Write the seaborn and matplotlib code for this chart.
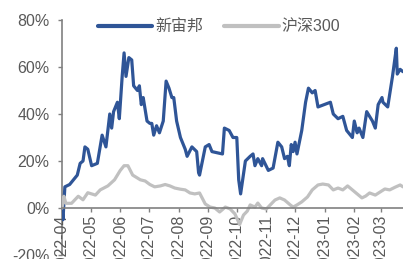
import matplotlib
matplotlib.use('Agg')
import matplotlib.pyplot as plt
import matplotlib.dates as mdates
from matplotlib.ticker import FuncFormatter
import seaborn as sns
import pandas as pd

# 新宙邦 cumulative return (%)
xzb_dates = ['2022-04-01', '2022-04-02', '2022-04-04', '2022-04-09', '2022-04-17', '2022-04-20',
             '2022-04-23', '2022-04-25', '2022-04-28', '2022-05-02', '2022-05-08', '2022-05-13',
             '2022-05-17', '2022-05-21', '2022-05-23', '2022-05-25', '2022-05-29', '2022-05-31',
             '2022-06-03', '2022-06-05', '2022-06-07', '2022-06-10', '2022-06-13', '2022-06-15',
             '2022-06-19', '2022-06-21', '2022-06-23', '2022-06-25', '2022-06-29', '2022-07-02',
             '2022-07-04', '2022-07-06', '2022-07-09', '2022-07-12', '2022-07-16', '2022-07-19',
             '2022-07-22', '2022-07-25', '2022-07-27', '2022-07-30', '2022-08-03', '2022-08-08',
             '2022-08-10', '2022-08-15', '2022-08-20', '2022-08-22', '2022-08-23', '2022-08-29',
             '2022-09-02', '2022-09-05', '2022-09-16', '2022-09-18', '2022-09-23', '2022-09-27',
             '2022-10-01', '2022-10-03', '2022-10-05', '2022-10-10', '2022-10-15', '2022-10-18',
             '2022-10-20', '2022-10-23', '2022-10-27', '2022-10-28', '2022-11-03', '2022-11-08',
             '2022-11-13', '2022-11-17', '2022-11-20', '2022-11-23', '2022-11-25', '2022-11-27',
             '2022-11-29', '2022-12-01', '2022-12-03', '2022-12-08', '2022-12-12', '2022-12-15',
             '2022-12-19', '2022-12-22', '2022-12-25', '2023-01-07', '2023-01-10', '2023-01-15',
             '2023-01-20', '2023-01-24', '2023-01-30', '2023-02-01', '2023-02-04', '2023-02-06',
             '2023-02-10', '2023-02-14', '2023-02-20', '2023-02-23', '2023-02-26', '2023-03-02',
             '2023-03-03', '2023-03-08', '2023-03-13', '2023-03-15', '2023-03-17', '2023-03-18',
             '2023-03-21', '2023-03-24']
xzb_values = [0, -5, 9, 10, 14, 19, 20, 26, 25, 18, 19, 31,
              26, 40, 34, 41, 45, 38, 56, 66, 56, 64, 63, 52,
              50, 52, 44, 47, 37, 36, 36, 31, 35, 32, 37, 54,
              51, 47, 47, 37, 30, 25, 22, 26, 24, 15, 14, 26,
              27, 24, 23, 34, 33, 30, 30, 12, 6, 20, 22, 23,
              18, 21, 18, 21, 16, 17, 28, 26, 21, 22, 18, 27,
              24, 28, 23, 33, 45, 51, 49, 50, 43, 45, 40, 38,
              39, 33, 30, 37, 32, 34, 30, 41, 37, 34, 44, 47,
              45, 43, 56, 62, 68, 57, 59, 58]

# 沪深300 cumulative return (%)
hs_dates = ['2022-04-01', '2022-04-03', '2022-04-05', '2022-04-11', '2022-04-18', '2022-04-23',
            '2022-04-28', '2022-05-06', '2022-05-11', '2022-05-19', '2022-05-26', '2022-06-01',
            '2022-06-05', '2022-06-09', '2022-06-14', '2022-06-22', '2022-06-27', '2022-07-02',
            '2022-07-07', '2022-07-13', '2022-07-18', '2022-07-23', '2022-07-28', '2022-08-03',
            '2022-08-08', '2022-08-13', '2022-08-18', '2022-08-23', '2022-08-29', '2022-09-03',
            '2022-09-08', '2022-09-13', '2022-09-19', '2022-09-24', '2022-09-29', '2022-10-04',
            '2022-10-08', '2022-10-12', '2022-10-15', '2022-10-20', '2022-10-23', '2022-10-27',
            '2022-11-01', '2022-11-05', '2022-11-10', '2022-11-15', '2022-11-20', '2022-11-26',
            '2022-11-29', '2022-12-03', '2022-12-08', '2022-12-14', '2022-12-19', '2022-12-25',
            '2022-12-30', '2023-01-05', '2023-01-10', '2023-01-15', '2023-01-20', '2023-01-25',
            '2023-01-30', '2023-02-04', '2023-02-09', '2023-02-13', '2023-02-17', '2023-02-23',
            '2023-02-28', '2023-03-05', '2023-03-10', '2023-03-16', '2023-03-21', '2023-03-24']
hs_values = [0, 5, 2, 2, 5, 3.5, 6.5, 5.5, 7.7, 9.4, 12, 16,
             18, 18, 14, 12, 11.5, 10, 9, 9.4, 10, 9.4, 8.5, 8,
             7.7, 6.4, 6, 6.4, 1.7, 0.4, 0, -1.7, 0.4, -0.4, -2.5, -7,
             -3, -1.3, 1.3, 0.4, 2.1, 0, -0.4, 1.3, 3.4, 4.3, 3.4, 1.3,
             0.4, 1.3, 2.6, 4.7, 7.7, 9.8, 10.2, 9.8, 7.7, 8.5, 7.7, 9.4,
             7.7, 6, 4.3, 5.1, 6.4, 5.5, 6.8, 8.1, 7.7, 8.9, 9.8, 9]

df = pd.concat([
    pd.DataFrame({'date': pd.to_datetime(xzb_dates), 'ret': xzb_values, 'name': '新宙邦'}),
    pd.DataFrame({'date': pd.to_datetime(hs_dates), 'ret': hs_values, 'name': '沪深300'}),
])

sns.set_style('white')
plt.rcParams['font.family'] = ['Liberation Sans', 'Noto Sans CJK SC', 'DejaVu Sans']
txt = '#595959'
axcol = '#808080'

fig = plt.figure(figsize=(4.03, 2.59), dpi=100)
ax = fig.add_axes([62 / 403, 1 - 255 / 259, 1 - 62 / 403, 235 / 259])
sns.lineplot(data=df, x='date', y='ret', hue='name', palette=['#2F5597', '#C0C0C0'],
             linewidth=2.3, ax=ax, legend=True)

ax.set_ylim(-20, 80)
ax.set_yticks([-20, 0, 20, 40, 60, 80])
ax.yaxis.set_major_formatter(FuncFormatter(lambda v, p: f'{v:.0f}%'))
ax.set_xlim(pd.Timestamp('2022-04-01'), pd.Timestamp('2023-03-24'))
ax.xaxis.set_major_locator(mdates.MonthLocator())
ax.xaxis.set_major_formatter(mdates.DateFormatter('%Y-%m'))
ax.set_xlabel('')
ax.set_ylabel('')

for s in ['top', 'right']:
    ax.spines[s].set_visible(False)
ax.spines['bottom'].set_position(('data', 0))
for s in ['left', 'bottom']:
    ax.spines[s].set_color(axcol)
    ax.spines[s].set_linewidth(1.2)
ax.spines['left'].set_zorder(0)

ax.tick_params(axis='y', direction='out', length=3, width=1, color=axcol,
               labelsize=11.5, labelcolor=txt, pad=6, left=True)
ax.tick_params(axis='x', direction='out', length=3, width=1, color=axcol,
               labelsize=11.5, labelcolor=txt, pad=2, bottom=True, labelrotation=90)

handles, labels = ax.get_legend_handles_labels()
ax.legend(handles, labels, loc='center left', bbox_to_anchor=(90 / 403, 1 - 27 / 259),
          bbox_transform=fig.transFigure, ncol=2, frameon=False, borderpad=0,
          handlelength=3.4, handletextpad=0.2, columnspacing=1.3,
          prop={'size': 11.5}, labelcolor=txt)
for line in ax.get_legend().get_lines():
    line.set_linewidth(3)

fig.savefig('out.png', dpi=100)
